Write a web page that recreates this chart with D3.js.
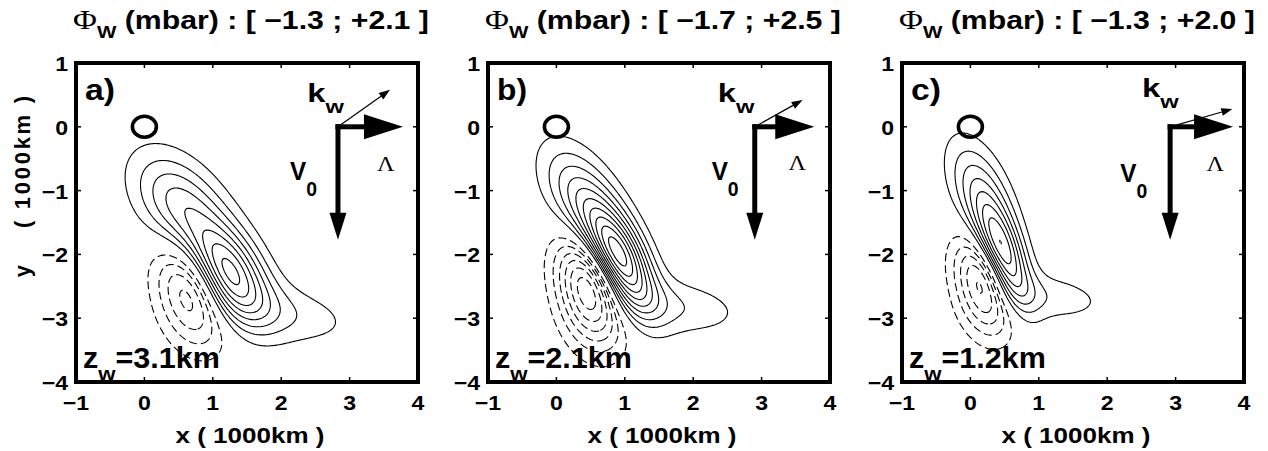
<!DOCTYPE html>
<html><head><meta charset="utf-8">
<script src="https://cdn.jsdelivr.net/npm/d3@7"></script>
<style>body{margin:0;background:#fff}</style>
</head><body><svg id="chart" width="1268" height="451"></svg>
<script>
// ---------- data ----------
const xTicks = [-1, 0, 1, 2, 3, 4];
const yTicks = [-4, -3, -2, -1, 0, 1];
const panelNames = ["a)", "b)", "c)"];
const zwKm = ["3.1", "2.1", "1.2"];
const phiMin = [-1.3, -1.7, -1.3];
const phiMax = [2.1, 2.5, 2.0];
const contourStep = 0.2;
// pressure-field lobes: [cx, cy, sigmaMajor, sigmaMinor, angleDeg, amplitude(mbar)]
const lobesA = [[1.15, -2.25, 0.58, 0.33, -58, 1.9], [0.55, -1.25, 0.65, 0.38, -55, 0.9], [1.95, -2.9, 0.8, 0.32, -12, 0.35], [0.72, -2.48, 0.62, 0.36, -80, -1.3]];
const lobesB = [[0.88, -2.05, 0.58, 0.26, -65, 2.3], [0.4, -1.15, 0.65, 0.32, -62, 0.85], [1.65, -2.8, 0.75, 0.3, -8, 0.38], [0.5, -2.5, 0.62, 0.33, -80, -1.6]];
const lobesC = [[0.46, -2.02, 0.55, 0.21, -72, 1.9], [0.15, -1.05, 0.62, 0.27, -70, 0.75], [1.1, -2.65, 0.65, 0.26, -8, 0.33], [0.22, -2.42, 0.55, 0.3, -80, -1.35]];
const vortexX = [0, 0, 0];
const vortexY = [0, 0, 0];
const arrowOriginX = [2.83, 2.9, 2.92];
const lambdaTipX = [3.78, 3.77, 3.84];
const v0TipY = [-1.77, -1.77, -1.77];
const kwTipX = [3.59, 3.6, 3.83];
const kwTipY = [0.58, 0.42, 0.28];

// ---------- layout ----------
const panelLeft = [76, 488, 902];
const plotTop = 63, plotW = 342, plotH = 319;
const SANS = "'Liberation Sans', Arial, Helvetica, sans-serif";
const SERIF = "'Liberation Serif', 'Times New Roman', serif";
const kwLabel = [[2.38, 0.39], [2.36, 0.39], [2.51, 0.47]];
const v0Label = [[2.13, -0.83], [2.27, -0.83], [2.19, -0.87]];
const lamLabel = [[3.53, -0.69], [3.52, -0.67], [3.58, -0.69]];

const svg = d3.select("#chart");
svg.append("rect").attr("width", 1268).attr("height", 451).attr("fill", "#fff");
const fmt = v => (v < 0 ? "\u2212" : "") + Math.abs(v);

function txt(g, size, anchor) {
  return g.append("text")
    .attr("font-family", SANS).attr("font-weight", "bold")
    .attr("font-size", size).attr("text-anchor", anchor || "start").attr("fill", "#000");
}
// place a text at (x,y) and stretch it horizontally to the given width (or a fixed factor)
function place(t, x, y, width, factor) {
  let s = factor || 1.07;
  if (width) { const w = t.node().getBBox().width; if (w > 0) s = width / w; }
  t.attr("transform", `translate(${x},${y}) scale(${s},1)`);
  return t;
}

const allLobes = [lobesA, lobesB, lobesC];
const N = 251, step = 5 / (N - 1);

allLobes.forEach((lobes, p) => {
  const x0 = panelLeft[p];
  const xs = d3.scaleLinear().domain([-1, 4]).range([x0, x0 + plotW]);
  const ys = d3.scaleLinear().domain([-4, 1]).range([plotTop + plotH, plotTop]);
  const g = svg.append("g");

  // field
  const vals = new Float64Array(N * N);
  for (let j = 0; j < N; j++) {
    const y = 1 - j * step;
    for (let i = 0; i < N; i++) {
      const x = -1 + i * step;
      let v = 0;
      for (const [cx, cy, sa, sb, ang, amp] of lobes) {
        const t = ang * Math.PI / 180, dx = x - cx, dy = y - cy;
        const u = dx * Math.cos(t) + dy * Math.sin(t);
        const w = -dx * Math.sin(t) + dy * Math.cos(t);
        v += amp * Math.exp(-(u * u / (2 * sa * sa) + w * w / (2 * sb * sb)));
      }
      vals[j * N + i] = v;
    }
  }
  const proj = d3.geoTransform({
    point: function (px, py) { this.stream.point(xs(-1 + px * step), ys(1 - py * step)); }
  });
  const path = d3.geoPath(proj);
  const clipId = "clip" + p;
  svg.append("clipPath").attr("id", clipId).append("rect")
    .attr("x", x0).attr("y", plotTop).attr("width", plotW).attr("height", plotH);
  const cg = g.append("g").attr("clip-path", `url(#${clipId})`);

  const posLevels = d3.range(contourStep, phiMax[p] + 1e-9, contourStep);
  const negLevels = d3.range(contourStep, -phiMin[p] + 1e-9, contourStep);
  const pos = d3.contours().size([N, N]).thresholds(posLevels)(Array.from(vals));
  const neg = d3.contours().size([N, N]).thresholds(negLevels)(Array.from(vals, v => -v));
  cg.selectAll("path.pos").data(pos).join("path").attr("class", "pos")
    .attr("d", path).attr("fill", "none").attr("stroke", "#000").attr("stroke-width", 1.1);
  cg.selectAll("path.neg").data(neg).join("path").attr("class", "neg")
    .attr("d", path).attr("fill", "none").attr("stroke", "#000").attr("stroke-width", 1.1)
    .attr("stroke-dasharray", "8,4");

  // vortex circle
  g.append("ellipse").attr("cx", xs(vortexX[p])).attr("cy", ys(vortexY[p]))
    .attr("rx", 12).attr("ry", 10.5).attr("fill", "none").attr("stroke", "#000").attr("stroke-width", 3.6);

  // arrows
  const ox = xs(arrowOriginX[p]), oy = ys(0);
  const vt = ys(v0TipY[p]);
  g.append("line").attr("x1", ox).attr("y1", oy - 2.5).attr("x2", ox).attr("y2", vt - 26)
    .attr("stroke", "#000").attr("stroke-width", 5);
  g.append("path").attr("d", `M${ox - 8.5},${vt - 27}L${ox + 8.5},${vt - 27}L${ox},${vt}Z`).attr("fill", "#000");
  const lt = xs(lambdaTipX[p]);
  g.append("line").attr("x1", ox - 2.5).attr("y1", oy).attr("x2", lt - 38).attr("y2", oy)
    .attr("stroke", "#000").attr("stroke-width", 5);
  g.append("path").attr("d", `M${lt - 39},${oy - 12.5}L${lt - 39},${oy + 12.5}L${lt},${oy}Z`).attr("fill", "#000");
  const kx = xs(kwTipX[p]), ky = ys(kwTipY[p]);
  const ang = Math.atan2(ky - oy, kx - ox), hl = 11, hw = 4;
  const bx = kx - hl * Math.cos(ang), by = ky - hl * Math.sin(ang);
  g.append("line").attr("x1", ox).attr("y1", oy).attr("x2", bx).attr("y2", by)
    .attr("stroke", "#000").attr("stroke-width", 1.2);
  g.append("path").attr("d", `M${kx},${ky}L${bx + hw * Math.sin(ang)},${by - hw * Math.cos(ang)}L${bx - hw * Math.sin(ang)},${by + hw * Math.cos(ang)}Z`).attr("fill", "#000");

  // annotation labels
  const kt = txt(g, 25);
  kt.append("tspan").text("k");
  kt.append("tspan").attr("font-size", 18).attr("dy", 11).text("w");
  place(kt, xs(kwLabel[p][0]), ys(kwLabel[p][1]), 38);
  const vtx = txt(g, 25);
  vtx.append("tspan").text("V");
  vtx.append("tspan").attr("font-size", 20).attr("dy", 16).text("0");
  place(vtx, xs(v0Label[p][0]), ys(v0Label[p][1]), 27);
  g.append("text").attr("transform", `translate(${xs(lamLabel[p][0])},${ys(lamLabel[p][1])}) scale(1.1,1)`)
    .attr("font-family", SERIF).attr("font-size", 22).attr("text-anchor", "middle").text("\u039B");

  place(txt(g, 30).text(panelNames[p]), x0 + 9, plotTop + 37, 30);
  const zt = txt(g, 29);
  zt.append("tspan").text("z");
  zt.append("tspan").attr("font-size", 21).attr("dy", 13).text("w");
  zt.append("tspan").attr("dy", -13).text("=" + zwKm[p] + "km");
  place(zt, x0 + 7, plotTop + 305, 137);

  // frame and ticks
  g.append("rect").attr("x", x0).attr("y", plotTop).attr("width", plotW).attr("height", plotH)
    .attr("fill", "none").attr("stroke", "#000").attr("stroke-width", 4);
  xTicks.forEach(t => {
    g.append("line").attr("x1", xs(t)).attr("x2", xs(t)).attr("y1", plotTop + plotH).attr("y2", plotTop + plotH - 5).attr("stroke", "#000").attr("stroke-width", 1.5);
    g.append("line").attr("x1", xs(t)).attr("x2", xs(t)).attr("y1", plotTop).attr("y2", plotTop + 5).attr("stroke", "#000").attr("stroke-width", 1.5);
    place(txt(g, 21, "middle").text(fmt(t)), xs(t), plotTop + plotH + 28, null, 1.1);
  });
  yTicks.forEach(t => {
    g.append("line").attr("y1", ys(t)).attr("y2", ys(t)).attr("x1", x0).attr("x2", x0 + 5).attr("stroke", "#000").attr("stroke-width", 1.5);
    g.append("line").attr("y1", ys(t)).attr("y2", ys(t)).attr("x1", x0 + plotW).attr("x2", x0 + plotW - 5).attr("stroke", "#000").attr("stroke-width", 1.5);
    place(txt(g, 21, "end").text(fmt(t)), x0 - 8, ys(t) + 8, null, 1.1);
  });

  // axis labels
  place(txt(g, 22, "middle").text("x  ( 1000km )"), x0 + plotW / 2 + 3, 443, 149);
  if (p === 0) {
    g.append("text").attr("transform", `translate(30,271) rotate(-90)`)
      .attr("font-family", SANS).attr("font-weight", "bold").attr("font-size", 22)
      .attr("text-anchor", "middle").text("y");
    g.append("text").attr("transform", `translate(30,162) rotate(-90)`)
      .attr("font-family", SANS).attr("font-weight", "bold").attr("font-size", 22)
      .attr("text-anchor", "middle").attr("textLength", 132).attr("lengthAdjust", "spacing")
      .text("( 1000km )");
  }

  // title
  const tt = txt(g, 25, "middle");
  tt.append("tspan").attr("font-family", SERIF).attr("font-weight", "normal").attr("font-size", 27).text("\u03A6");
  tt.append("tspan").attr("font-size", 17).attr("dy", 9).text("W");
  tt.append("tspan").attr("dy", -9).text(" (mbar) : [ " + fmt(phiMin[p]) + " ; +" + phiMax[p].toFixed(1) + " ]");
  place(tt, x0 + plotW / 2 + 4, 29, 356);
});
</script>
</body></html>
